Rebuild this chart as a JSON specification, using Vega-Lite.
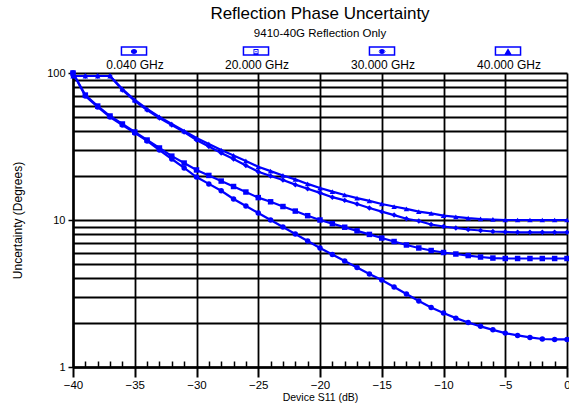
{
  "$schema": "https://vega.github.io/schema/vega-lite/v6.json",
  "width": 494,
  "height": 294,
  "autosize": {"type": "none"},
  "padding": {"left": 73, "top": 73, "right": 2, "bottom": 41},
  "background": "white",
  "config": {
    "font": "Liberation Sans",
    "view": {"stroke": null},
    "axis": {"labelColor": "black", "titleColor": "black", "titleFontWeight": "normal"}
  },
  "title": {
    "text": "Reflection Phase Uncertainty",
    "subtitle": "9410-40G Reflection Only",
    "fontSize": 17,
    "fontWeight": "normal",
    "color": "black",
    "subtitleFontSize": 11.5,
    "subtitleColor": "black",
    "subtitlePadding": 5,
    "anchor": "middle",
    "offset": 5
  },
  "data": {
    "values": [
      {"s": "0.040 GHz", "x": -40, "y": 100}, {"s": "0.040 GHz", "x": -39, "y": 69.7}, {"s": "0.040 GHz", "x": -38, "y": 58.7}, {"s": "0.040 GHz", "x": -37, "y": 50.2}, {"s": "0.040 GHz", "x": -36, "y": 44.3}, {"s": "0.040 GHz", "x": -35, "y": 39.1}, {"s": "0.040 GHz", "x": -34, "y": 34.5}, {"s": "0.040 GHz", "x": -33, "y": 29.9}, {"s": "0.040 GHz", "x": -32, "y": 26.0}, {"s": "0.040 GHz", "x": -31, "y": 22.6}, {"s": "0.040 GHz", "x": -30, "y": 19.6}, {"s": "0.040 GHz", "x": -29, "y": 17.6}, {"s": "0.040 GHz", "x": -28, "y": 15.8}, {"s": "0.040 GHz", "x": -27, "y": 13.9}, {"s": "0.040 GHz", "x": -26, "y": 12.45}, {"s": "0.040 GHz", "x": -25, "y": 11.16}, {"s": "0.040 GHz", "x": -24, "y": 10.0}, {"s": "0.040 GHz", "x": -23, "y": 8.96}, {"s": "0.040 GHz", "x": -22, "y": 8.03}, {"s": "0.040 GHz", "x": -21, "y": 7.2}, {"s": "0.040 GHz", "x": -20, "y": 6.45}, {"s": "0.040 GHz", "x": -19, "y": 5.83}, {"s": "0.040 GHz", "x": -18, "y": 5.26}, {"s": "0.040 GHz", "x": -17, "y": 4.75}, {"s": "0.040 GHz", "x": -16, "y": 4.29}, {"s": "0.040 GHz", "x": -15, "y": 3.91}, {"s": "0.040 GHz", "x": -14, "y": 3.5}, {"s": "0.040 GHz", "x": -13, "y": 3.14}, {"s": "0.040 GHz", "x": -12, "y": 2.81}, {"s": "0.040 GHz", "x": -11, "y": 2.54}, {"s": "0.040 GHz", "x": -10, "y": 2.33}, {"s": "0.040 GHz", "x": -9, "y": 2.15}, {"s": "0.040 GHz", "x": -8, "y": 2.01}, {"s": "0.040 GHz", "x": -7, "y": 1.89}, {"s": "0.040 GHz", "x": -6, "y": 1.79}, {"s": "0.040 GHz", "x": -5, "y": 1.7}, {"s": "0.040 GHz", "x": -4, "y": 1.64}, {"s": "0.040 GHz", "x": -3, "y": 1.59}, {"s": "0.040 GHz", "x": -2, "y": 1.55}, {"s": "0.040 GHz", "x": -1, "y": 1.54}, {"s": "0.040 GHz", "x": 0, "y": 1.54},
      {"s": "20.000 GHz", "x": -40, "y": 100}, {"s": "20.000 GHz", "x": -39, "y": 70.8}, {"s": "20.000 GHz", "x": -38, "y": 59.6}, {"s": "20.000 GHz", "x": -37, "y": 51.0}, {"s": "20.000 GHz", "x": -36, "y": 45.0}, {"s": "20.000 GHz", "x": -35, "y": 39.7}, {"s": "20.000 GHz", "x": -34, "y": 35.0}, {"s": "20.000 GHz", "x": -33, "y": 30.9}, {"s": "20.000 GHz", "x": -32, "y": 27.2}, {"s": "20.000 GHz", "x": -31, "y": 24.4}, {"s": "20.000 GHz", "x": -30, "y": 21.9}, {"s": "20.000 GHz", "x": -29, "y": 20.1}, {"s": "20.000 GHz", "x": -28, "y": 18.4}, {"s": "20.000 GHz", "x": -27, "y": 16.9}, {"s": "20.000 GHz", "x": -26, "y": 15.5}, {"s": "20.000 GHz", "x": -25, "y": 14.2}, {"s": "20.000 GHz", "x": -24, "y": 13.3}, {"s": "20.000 GHz", "x": -23, "y": 12.35}, {"s": "20.000 GHz", "x": -22, "y": 11.5}, {"s": "20.000 GHz", "x": -21, "y": 10.7}, {"s": "20.000 GHz", "x": -20, "y": 10.0}, {"s": "20.000 GHz", "x": -19, "y": 9.45}, {"s": "20.000 GHz", "x": -18, "y": 8.93}, {"s": "20.000 GHz", "x": -17, "y": 8.44}, {"s": "20.000 GHz", "x": -16, "y": 7.98}, {"s": "20.000 GHz", "x": -15, "y": 7.54}, {"s": "20.000 GHz", "x": -14, "y": 7.14}, {"s": "20.000 GHz", "x": -13, "y": 6.76}, {"s": "20.000 GHz", "x": -12, "y": 6.45}, {"s": "20.000 GHz", "x": -11, "y": 6.2}, {"s": "20.000 GHz", "x": -10, "y": 6.01}, {"s": "20.000 GHz", "x": -9, "y": 5.87}, {"s": "20.000 GHz", "x": -8, "y": 5.73}, {"s": "20.000 GHz", "x": -7, "y": 5.6}, {"s": "20.000 GHz", "x": -6, "y": 5.51}, {"s": "20.000 GHz", "x": -5, "y": 5.47}, {"s": "20.000 GHz", "x": -4, "y": 5.47}, {"s": "20.000 GHz", "x": -3, "y": 5.47}, {"s": "20.000 GHz", "x": -2, "y": 5.47}, {"s": "20.000 GHz", "x": -1, "y": 5.47}, {"s": "20.000 GHz", "x": 0, "y": 5.47},
      {"s": "30.000 GHz", "x": -40, "y": 95.4}, {"s": "30.000 GHz", "x": -39, "y": 95.4}, {"s": "30.000 GHz", "x": -38, "y": 95.4}, {"s": "30.000 GHz", "x": -37, "y": 95.4}, {"s": "30.000 GHz", "x": -36, "y": 76.6}, {"s": "30.000 GHz", "x": -35, "y": 64.5}, {"s": "30.000 GHz", "x": -34, "y": 56.0}, {"s": "30.000 GHz", "x": -33, "y": 49.4}, {"s": "30.000 GHz", "x": -32, "y": 44.3}, {"s": "30.000 GHz", "x": -31, "y": 39.7}, {"s": "30.000 GHz", "x": -30, "y": 35.0}, {"s": "30.000 GHz", "x": -29, "y": 31.6}, {"s": "30.000 GHz", "x": -28, "y": 28.6}, {"s": "30.000 GHz", "x": -27, "y": 26.0}, {"s": "30.000 GHz", "x": -26, "y": 23.5}, {"s": "30.000 GHz", "x": -25, "y": 21.3}, {"s": "30.000 GHz", "x": -24, "y": 19.9}, {"s": "30.000 GHz", "x": -23, "y": 18.7}, {"s": "30.000 GHz", "x": -22, "y": 17.4}, {"s": "30.000 GHz", "x": -21, "y": 16.3}, {"s": "30.000 GHz", "x": -20, "y": 15.3}, {"s": "30.000 GHz", "x": -19, "y": 14.3}, {"s": "30.000 GHz", "x": -18, "y": 13.6}, {"s": "30.000 GHz", "x": -17, "y": 12.85}, {"s": "30.000 GHz", "x": -16, "y": 12.07}, {"s": "30.000 GHz", "x": -15, "y": 11.4}, {"s": "30.000 GHz", "x": -14, "y": 10.8}, {"s": "30.000 GHz", "x": -13, "y": 10.2}, {"s": "30.000 GHz", "x": -12, "y": 9.84}, {"s": "30.000 GHz", "x": -11, "y": 9.32}, {"s": "30.000 GHz", "x": -10, "y": 9.03}, {"s": "30.000 GHz", "x": -9, "y": 8.82}, {"s": "30.000 GHz", "x": -8, "y": 8.62}, {"s": "30.000 GHz", "x": -7, "y": 8.48}, {"s": "30.000 GHz", "x": -6, "y": 8.35}, {"s": "30.000 GHz", "x": -5, "y": 8.29}, {"s": "30.000 GHz", "x": -4, "y": 8.25}, {"s": "30.000 GHz", "x": -3, "y": 8.25}, {"s": "30.000 GHz", "x": -2, "y": 8.25}, {"s": "30.000 GHz", "x": -1, "y": 8.25}, {"s": "30.000 GHz", "x": 0, "y": 8.25},
      {"s": "40.000 GHz", "x": -40, "y": 95.4}, {"s": "40.000 GHz", "x": -39, "y": 95.4}, {"s": "40.000 GHz", "x": -38, "y": 95.4}, {"s": "40.000 GHz", "x": -37, "y": 95.4}, {"s": "40.000 GHz", "x": -36, "y": 77.8}, {"s": "40.000 GHz", "x": -35, "y": 65.5}, {"s": "40.000 GHz", "x": -34, "y": 56.9}, {"s": "40.000 GHz", "x": -33, "y": 50.2}, {"s": "40.000 GHz", "x": -32, "y": 45.0}, {"s": "40.000 GHz", "x": -31, "y": 40.3}, {"s": "40.000 GHz", "x": -30, "y": 36.1}, {"s": "40.000 GHz", "x": -29, "y": 32.9}, {"s": "40.000 GHz", "x": -28, "y": 29.9}, {"s": "40.000 GHz", "x": -27, "y": 27.5}, {"s": "40.000 GHz", "x": -26, "y": 25.2}, {"s": "40.000 GHz", "x": -25, "y": 23.0}, {"s": "40.000 GHz", "x": -24, "y": 21.5}, {"s": "40.000 GHz", "x": -23, "y": 20.1}, {"s": "40.000 GHz", "x": -22, "y": 18.9}, {"s": "40.000 GHz", "x": -21, "y": 17.6}, {"s": "40.000 GHz", "x": -20, "y": 16.5}, {"s": "40.000 GHz", "x": -19, "y": 15.6}, {"s": "40.000 GHz", "x": -18, "y": 14.8}, {"s": "40.000 GHz", "x": -17, "y": 14.1}, {"s": "40.000 GHz", "x": -16, "y": 13.5}, {"s": "40.000 GHz", "x": -15, "y": 12.85}, {"s": "40.000 GHz", "x": -14, "y": 12.35}, {"s": "40.000 GHz", "x": -13, "y": 11.9}, {"s": "40.000 GHz", "x": -12, "y": 11.4}, {"s": "40.000 GHz", "x": -11, "y": 11.1}, {"s": "40.000 GHz", "x": -10, "y": 10.7}, {"s": "40.000 GHz", "x": -9, "y": 10.5}, {"s": "40.000 GHz", "x": -8, "y": 10.3}, {"s": "40.000 GHz", "x": -7, "y": 10.16}, {"s": "40.000 GHz", "x": -6, "y": 10.08}, {"s": "40.000 GHz", "x": -5, "y": 10.0}, {"s": "40.000 GHz", "x": -4, "y": 10.0}, {"s": "40.000 GHz", "x": -3, "y": 10.0}, {"s": "40.000 GHz", "x": -2, "y": 10.0}, {"s": "40.000 GHz", "x": -1, "y": 10.0}, {"s": "40.000 GHz", "x": 0, "y": 10.0}
    ]
  },
  "resolve": {
    "axis": {"x": "independent", "y": "independent"},
    "scale": {"shape": "independent"},
    "legend": {"shape": "independent"}
  },
  "layer": [
    {
      "mark": {"type": "line", "color": "#0000ff", "strokeWidth": 2.2},
      "encoding": {
        "x": {
          "field": "x", "type": "quantitative",
          "scale": {"domain": [-40, 0], "nice": false, "zero": false},
          "axis": {
            "orient": "bottom",
            "values": [-40, -35, -30, -25, -20, -15, -10, -5, 0],
            "grid": true, "gridColor": "black", "gridWidth": 1.8, "gridOpacity": 1,
            "domain": true, "domainColor": "black", "domainWidth": 2.5,
            "ticks": true, "tickSize": 10, "tickWidth": 2, "tickColor": "black",
            "labelFontSize": 11.5, "labelPadding": 2, "labelFlush": false, "labelOverlap": false,
            "title": "Device S11 (dB)", "titleFontSize": 10.5, "titlePadding": 2
          }
        },
        "y": {
          "field": "y", "type": "quantitative",
          "scale": {"type": "log", "domain": [1, 100], "nice": false},
          "axis": {
            "orient": "left",
            "values": [1, 2, 3, 4, 5, 6, 7, 8, 9, 10, 20, 30, 40, 50, 60, 70, 80, 90, 100],
            "grid": true, "gridColor": "black", "gridWidth": 2, "gridOpacity": 1,
            "domain": true, "domainColor": "black", "domainWidth": 2.5,
            "ticks": true, "tickSize": 5, "tickWidth": 1.5, "tickColor": "black",
            "tickOpacity": {"condition": {"test": "datum.value == 1 || datum.value == 10 || datum.value == 100", "value": 1}, "value": 0},
            "labelExpr": "datum.value == 1 || datum.value == 10 || datum.value == 100 ? datum.label : ''",
            "labelFontSize": 11, "labelPadding": 3, "labelOverlap": false, "labelFlush": false, "labelBound": false,
            "title": "Uncertainty (Degrees)", "titleFontSize": 12, "titlePadding": 22
          }
        },
        "detail": {"field": "s", "type": "nominal"}
      }
    },
    {
      "mark": {"type": "point", "filled": true, "color": "#0000ff", "size": 30, "opacity": 1},
      "encoding": {
        "x": {
          "field": "x", "type": "quantitative",
          "axis": {
            "orient": "bottom",
            "values": [-39, -38, -37, -36, -34, -33, -32, -31, -29, -28, -27, -26, -24, -23, -22, -21, -19, -18, -17, -16, -14, -13, -12, -11, -9, -8, -7, -6, -4, -3, -2, -1],
            "grid": false, "domain": false, "labels": false, "title": null,
            "ticks": true, "tickSize": -6, "tickWidth": 1.5, "tickColor": "black"
          }
        },
        "y": {"field": "y", "type": "quantitative", "axis": null},
        "shape": {
          "field": "s", "type": "nominal",
          "scale": {"domain": ["0.040 GHz", "20.000 GHz", "30.000 GHz", "40.000 GHz"], "range": ["circle", "square", "diamond", "triangle-up"]},
          "legend": null
        }
      }
    },
    {
      "transform": [{"filter": "false"}],
      "mark": {"type": "point", "filled": true, "color": "#0000ff", "size": 100, "opacity": 1},
      "encoding": {
        "x": {"field": "x", "type": "quantitative", "axis": null},
        "y": {"field": "y", "type": "quantitative", "axis": null},
        "shape": {
          "field": "s", "type": "nominal",
          "scale": {
            "domain": ["0.040 GHz", "20.000 GHz", "30.000 GHz", "40.000 GHz"],
            "range": [
              "M-2.66,-0.93H2.66V0.93H-2.66Z M-2.36,-0.63V0.63H2.36V-0.63Z M-0.62,0.1A0.62,0.5 0 1,0 0.62,0.1A0.62,0.5 0 1,0 -0.62,0.1Z",
              "M-2.66,-0.93H2.66V0.93H-2.66Z M-2.36,-0.63V0.63H2.36V-0.63Z M-0.5,-0.4H0.5V0.63H-0.5Z M-0.32,-0.22V0.45H0.32V-0.22Z M-0.12,0.0H0.12V0.24H-0.12Z",
              "M-2.66,-0.93H2.66V0.93H-2.66Z M-2.36,-0.63V0.63H2.36V-0.63Z M-0.62,0.1A0.62,0.5 0 1,0 0.62,0.1A0.62,0.5 0 1,0 -0.62,0.1Z M-0.8,0.1L-0.5,-0.05L-0.5,0.25Z M0.8,0.1L0.5,0.25L0.5,-0.05Z",
              "M-2.66,-0.93H2.66V0.93H-2.66Z M-2.36,-0.63V0.63H2.36V-0.63Z M0,-0.55L0.7,0.63H-0.7Z"
            ]
          },
          "legend": {
            "title": null,
            "orient": "none",
            "legendX": 55,
            "legendY": -28,
            "direction": "horizontal",
            "columns": 4,
            "columnPadding": 60,
            "symbolSize": 100,
            "symbolStrokeWidth": 0,
            "symbolFillColor": "#0000ff",
            "labelFontSize": 12,
            "labelColor": "black",
            "labelAlign": "center",
            "labelOffset": -5,
            "labelLimit": 200,
            "labelExpr": "['', '', datum.label]"
          }
        }
      }
    }
  ]
}
